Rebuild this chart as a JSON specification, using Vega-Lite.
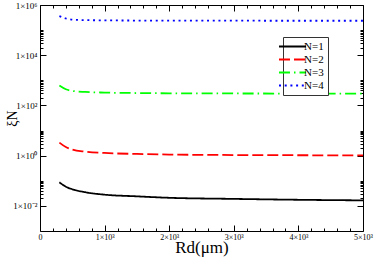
{
  "$schema": "https://vega.github.io/schema/vega-lite/v6.json",
  "width": 323,
  "height": 226,
  "autosize": {"type": "none"},
  "padding": {"left": 40, "top": 5, "right": 11, "bottom": 37},
  "background": "white",
  "config": {
    "view": {"stroke": "black", "strokeWidth": 1},
    "font": "Liberation Serif",
    "axis": {"domain": false, "grid": false, "zindex": 1, "labelFont": "Liberation Serif", "titleFont": "Liberation Serif", "tickColor": "black", "labelColor": "black", "titleColor": "black", "titleFontWeight": "normal", "tickWidth": 1}
  },
  "data": {"values": [
    {"R": 300, "xi": 0.087, "N": "N=1"}, {"R": 400, "xi": 0.058, "N": "N=1"}, {"R": 500, "xi": 0.046, "N": "N=1"}, {"R": 700, "xi": 0.035, "N": "N=1"}, {"R": 1000, "xi": 0.028, "N": "N=1"}, {"R": 1500, "xi": 0.024, "N": "N=1"}, {"R": 2000, "xi": 0.021, "N": "N=1"}, {"R": 3000, "xi": 0.019, "N": "N=1"}, {"R": 4000, "xi": 0.0175, "N": "N=1"}, {"R": 5000, "xi": 0.0166, "N": "N=1"},
    {"R": 300, "xi": 3.3, "N": "N=2"}, {"R": 400, "xi": 2.2, "N": "N=2"}, {"R": 500, "xi": 1.75, "N": "N=2"}, {"R": 700, "xi": 1.45, "N": "N=2"}, {"R": 1000, "xi": 1.28, "N": "N=2"}, {"R": 1500, "xi": 1.17, "N": "N=2"}, {"R": 2000, "xi": 1.11, "N": "N=2"}, {"R": 3000, "xi": 1.06, "N": "N=2"}, {"R": 4000, "xi": 1.04, "N": "N=2"}, {"R": 5000, "xi": 1.02, "N": "N=2"},
    {"R": 300, "xi": 620, "N": "N=3"}, {"R": 400, "xi": 440, "N": "N=3"}, {"R": 500, "xi": 380, "N": "N=3"}, {"R": 700, "xi": 345, "N": "N=3"}, {"R": 1000, "xi": 325, "N": "N=3"}, {"R": 1500, "xi": 312, "N": "N=3"}, {"R": 2000, "xi": 305, "N": "N=3"}, {"R": 3000, "xi": 300, "N": "N=3"}, {"R": 4000, "xi": 297, "N": "N=3"}, {"R": 5000, "xi": 295, "N": "N=3"},
    {"R": 300, "xi": 360000, "N": "N=4"}, {"R": 400, "xi": 290000, "N": "N=4"}, {"R": 500, "xi": 260000, "N": "N=4"}, {"R": 700, "xi": 250000, "N": "N=4"}, {"R": 1000, "xi": 245000, "N": "N=4"}, {"R": 1500, "xi": 240000, "N": "N=4"}, {"R": 2000, "xi": 238000, "N": "N=4"}, {"R": 3000, "xi": 237000, "N": "N=4"}, {"R": 4000, "xi": 236000, "N": "N=4"}, {"R": 5000, "xi": 236000, "N": "N=4"}
  ]},
  "layer": [
    {
      "mark": {"type": "line", "strokeWidth": 1.8, "interpolate": "monotone"},
      "encoding": {
        "x": {"field": "R", "type": "quantitative",
          "scale": {"domain": [0, 5000], "nice": false, "zero": false},
          "axis": {"orient": "bottom", "offset": -6, "tickSize": 6, "title": "Rd(μm)", "titleFont": "Liberation Serif", "titleFontSize": 17, "titlePadding": -2,
            "values": [0, 1000, 2000, 3000, 4000, 5000],
            "labelExpr": "datum.value == 0 ? '0' : (datum.value/1000) + '×10³'",
            "labelFont": "Liberation Serif", "labelFontSize": 8, "labelPadding": 2, "labelFlush": false, "labelOverlap": false}},
        "y": {"field": "xi", "type": "quantitative",
          "scale": {"type": "log", "domain": [0.001, 1000000], "nice": false},
          "axis": {"orient": "left", "offset": -6, "tickSize": 6, "title": "ξN", "titleFont": "Liberation Serif", "titleFontSize": 14, "titleX": -27, "titlePadding": 0,
            "values": [0.01, 1, 100, 10000, 1000000],
            "labelExpr": "datum.value == 0.01 ? '1×10⁻²' : datum.value == 1 ? '1×10⁰' : datum.value == 100 ? '1×10²' : datum.value == 10000 ? '1×10⁴' : '1×10⁶'",
            "labelFont": "Liberation Serif", "labelFontSize": 9, "labelPadding": 3, "labelOverlap": false, "labelFlush": false}},
        "color": {"field": "N", "type": "nominal",
          "scale": {"domain": ["N=1", "N=2", "N=3", "N=4"], "range": ["#000000", "#ff0000", "#00ff00", "#0000ff"]},
          "legend": {"title": null, "orient": "none", "legendX": 243, "legendY": 32, "strokeColor": "#333333", "fillColor": "white", "padding": 4, "labelFont": "Liberation Serif", "labelFontSize": 11, "symbolType": "M-3,0H3", "symbolSize": 81, "symbolStrokeWidth": 2, "rowPadding": 1, "labelOffset": 6}},
        "strokeDash": {"field": "N", "type": "nominal",
          "scale": {"domain": ["N=1", "N=2", "N=3", "N=4"], "range": [[1, 0], [11, 4], [11, 4, 1.5, 4], [2, 3.7]]},
          "legend": {"title": null, "orient": "none", "legendX": 243, "legendY": 32, "strokeColor": "#333333", "fillColor": "white", "padding": 4, "labelFont": "Liberation Serif", "labelFontSize": 11, "symbolType": "M-3,0H3", "symbolSize": 81, "symbolStrokeWidth": 2, "rowPadding": 1, "labelOffset": 6}}
      }
    },
    {
      "mark": {"type": "point", "opacity": 0},
      "encoding": {
        "x": {"field": "R", "type": "quantitative",
          "axis": {"orient": "bottom", "offset": -3, "tickSize": 3, "title": null, "labels": false,
            "values": [200,400,600,800,1200,1400,1600,1800,2200,2400,2600,2800,3200,3400,3600,3800,4200,4400,4600,4800]}},
        "y": {"field": "xi", "type": "quantitative",
          "axis": {"orient": "left", "offset": -3, "tickSize": 3, "title": null, "labels": false,
            "values": [0.02,0.03,0.04,0.05,0.06,0.07,0.08,0.09,0.1,2,3,4,5,6,7,8,9,10,200,300,400,500,600,700,800,900,1000,20000,30000,40000,50000,60000,70000,80000,90000,100000]}}
      }
    },
    {
      "mark": {"type": "point", "opacity": 0},
      "encoding": {
        "x": {"field": "R", "type": "quantitative",
          "axis": {"orient": "top", "offset": -6, "tickSize": 6, "title": null, "labels": false,
            "values": [0, 1000, 2000, 3000, 4000, 5000]}},
        "y": {"field": "xi", "type": "quantitative",
          "axis": {"orient": "right", "offset": -6, "tickSize": 6, "title": null, "labels": false,
            "values": [0.01, 1, 100, 10000, 1000000]}}
      }
    },
    {
      "mark": {"type": "point", "opacity": 0},
      "encoding": {
        "x": {"field": "R", "type": "quantitative",
          "axis": {"orient": "top", "offset": -3, "tickSize": 3, "title": null, "labels": false,
            "values": [200,400,600,800,1200,1400,1600,1800,2200,2400,2600,2800,3200,3400,3600,3800,4200,4400,4600,4800]}},
        "y": {"field": "xi", "type": "quantitative",
          "axis": {"orient": "right", "offset": -3, "tickSize": 3, "title": null, "labels": false,
            "values": [0.02,0.03,0.04,0.05,0.06,0.07,0.08,0.09,0.1,2,3,4,5,6,7,8,9,10,200,300,400,500,600,700,800,900,1000,20000,30000,40000,50000,60000,70000,80000,90000,100000]}}
      }
    }
  ],
  "resolve": {"axis": {"x": "independent", "y": "independent"}}
}
